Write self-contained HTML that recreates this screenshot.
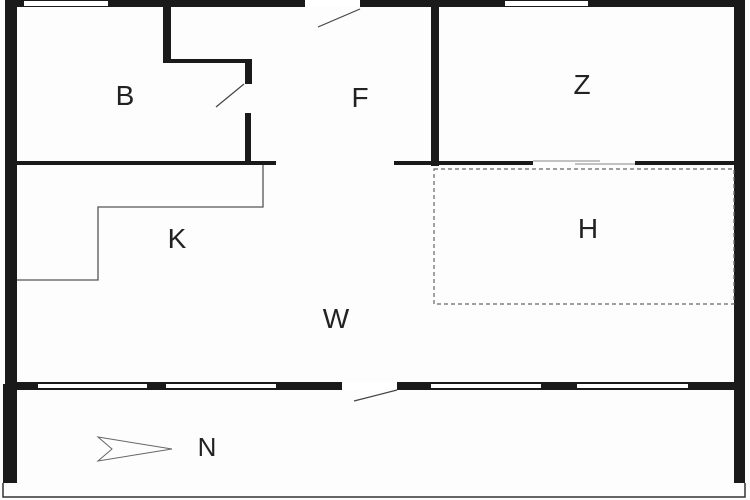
<!DOCTYPE html>
<html><head><style>
html,body{margin:0;padding:0;background:#fdfdfd;}
svg{display:block}
text{font-family:"Liberation Sans",sans-serif;font-size:28px;fill:#222;text-anchor:middle}
</style></head><body>
<svg width="750" height="500" viewBox="0 0 750 500" xmlns="http://www.w3.org/2000/svg">
<rect width="750" height="500" fill="#fdfdfd"/>
<g fill="#1a1a1a">
<!-- top wall -->
<rect x="5" y="0" width="740" height="7"/>
<!-- left wall -->
<rect x="5" y="0" width="12" height="383"/>
<rect x="3" y="384" width="14" height="99"/>
<!-- right wall -->
<rect x="734" y="0" width="11" height="483"/>
<!-- B walls -->
<rect x="163" y="7" width="8" height="55"/>
<rect x="163" y="59" width="89" height="4"/>
<rect x="245" y="59" width="7" height="25"/>
<rect x="245" y="113" width="6" height="50"/>
<!-- mid horizontal wall -->
<rect x="17" y="161" width="259" height="4"/>
<rect x="394" y="161" width="139" height="4"/>
<rect x="635" y="161" width="99" height="4"/>
<!-- Z/F wall -->
<rect x="431" y="7" width="8" height="159"/>
<!-- bottom wall -->
<rect x="5" y="382" width="740" height="8"/>
</g>
<!-- windows top -->
<rect x="24" y="1" width="84" height="5" fill="#fff"/>
<rect x="505" y="1" width="83" height="5" fill="#fff"/>
<rect x="305" y="0" width="55" height="7" fill="#fff"/>
<line x1="318" y1="27" x2="360" y2="9" stroke="#444" stroke-width="1.2"/>
<!-- B door -->
<line x1="216" y1="107" x2="244" y2="84" stroke="#444" stroke-width="1.2"/>
<!-- Z/H opening -->
<line x1="533" y1="161" x2="600" y2="161" stroke="#888" stroke-width="1"/>
<line x1="575" y1="164" x2="635" y2="164" stroke="#888" stroke-width="1"/>
<!-- bottom windows -->
<g fill="#fff">
<rect x="38" y="384" width="109" height="4"/>
<rect x="166" y="384" width="110" height="4"/>
<rect x="342" y="382" width="55" height="8"/>
<rect x="431" y="384" width="110" height="4"/>
<rect x="577" y="384" width="111" height="4"/>
</g>
<line x1="354" y1="401" x2="397" y2="390" stroke="#444" stroke-width="1.2"/>
<!-- counter -->
<polyline points="263,165 263,207 98,207 98,280 17,280" fill="none" stroke="#555" stroke-width="1.3"/>
<!-- H dashed -->
<rect x="434" y="169" width="300" height="135" fill="none" stroke="#666" stroke-width="1.2" stroke-dasharray="4,3"/>
<!-- bottom outline -->
<polyline points="3,483 3,497 745,497 745,483" fill="none" stroke="#333" stroke-width="1.5"/>
<!-- north arrow -->
<polygon points="98,437 172,449 98,461 112,449" fill="none" stroke="#666" stroke-width="1"/>
<text x="125" y="105">B</text>
<text x="360" y="107">F</text>
<text x="582" y="94">Z</text>
<text x="177" y="248">K</text>
<text x="588" y="238">H</text>
<text x="336" y="328">W</text>
<text x="207" y="456" style="font-size:26px">N</text>
</svg>
</body></html>
